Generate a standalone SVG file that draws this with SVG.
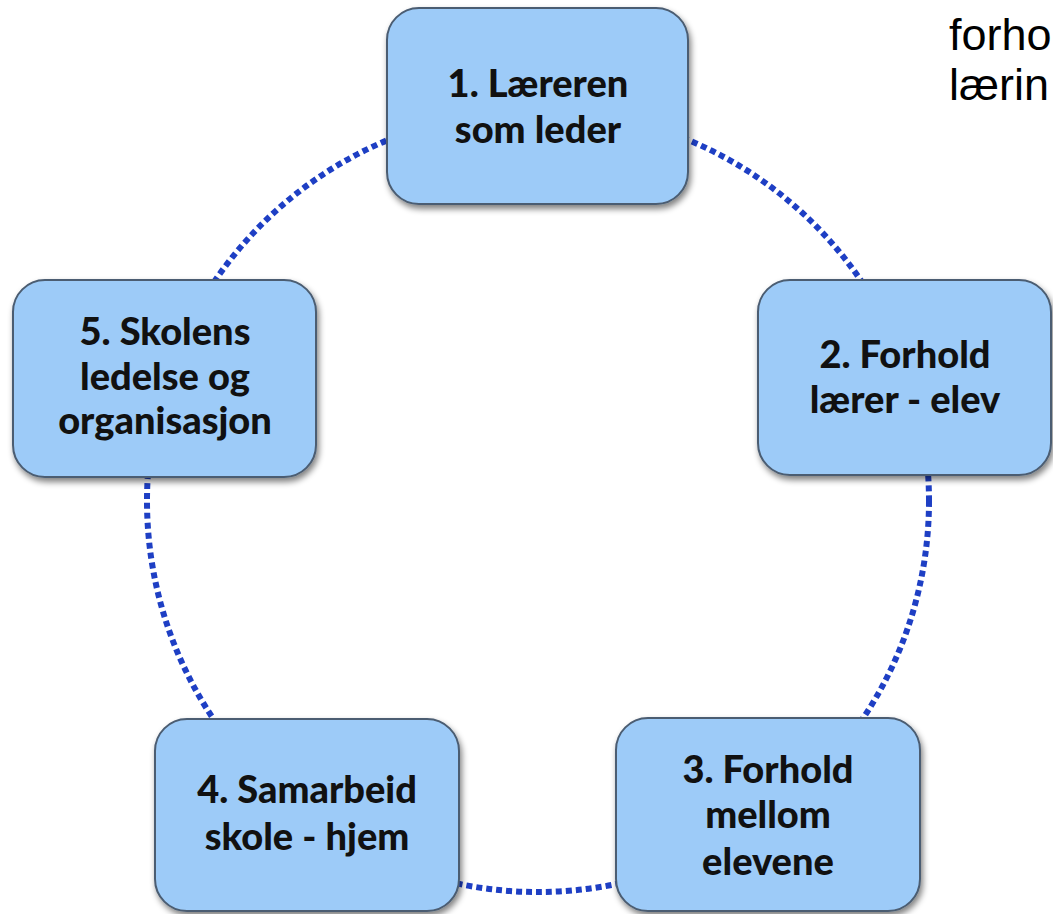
<svg xmlns="http://www.w3.org/2000/svg" width="1053" height="914" viewBox="0 0 1053 914">
<style>
.box{fill:#9DCBF8;stroke:#4B5D72;stroke-width:2;filter:url(#sh)}
.lbl{font-family:Lato,"Open Sans","Liberation Sans",sans-serif;font-weight:900;font-size:38px;fill:#111;text-anchor:middle}
.side{font-family:"Liberation Sans",Arial,sans-serif;font-size:45px;fill:#000}
.ring{fill:none;stroke:#1E3FC4;stroke-width:6;stroke-dasharray:6 4}
</style>
<defs>
<filter id="sh" x="-10%" y="-10%" width="130%" height="130%">
<feGaussianBlur in="SourceAlpha" stdDeviation="3"/>
<feOffset dx="2" dy="4" result="b"/>
<feComponentTransfer><feFuncA type="linear" slope="0.5"/></feComponentTransfer>
<feMerge><feMergeNode/><feMergeNode in="SourceGraphic"/></feMerge>
</filter>
</defs>
<rect width="1053" height="914" fill="#fff"/>
<g id="connectors">
<circle class="ring" cx="538" cy="501" r="391"/>
</g>
<g id="node1">
<rect class="box" x="387" y="8" width="301" height="196" rx="32"/>
<text class="lbl" x="538" y="97">1. Læreren</text>
<text class="lbl" x="538" y="143">som leder</text>
</g>
<g id="node2">
<rect class="box" x="758" y="280" width="293" height="195" rx="32"/>
<text class="lbl" x="905" y="368">2. Forhold</text>
<text class="lbl" x="905" y="413">lærer - elev</text>
</g>
<g id="node3">
<rect class="box" x="616" y="718" width="304" height="193" rx="32"/>
<text class="lbl" x="768" y="783">3. Forhold</text>
<text class="lbl" x="768" y="828">mellom</text>
<text class="lbl" x="768" y="875">elevene</text>
</g>
<g id="node4">
<rect class="box" x="155" y="719" width="304" height="192" rx="32"/>
<text class="lbl" x="307" y="803">4. Samarbeid</text>
<text class="lbl" x="307" y="850">skole - hjem</text>
</g>
<g id="node5">
<rect class="box" x="13" y="280" width="303" height="197" rx="32"/>
<text class="lbl" x="165" y="345">5. Skolens</text>
<text class="lbl" x="165" y="390">ledelse og</text>
<text class="lbl" x="165" y="434">organisasjon</text>
</g>
<g id="sidetext">
<text class="side" x="949" y="50">forho</text>
<text class="side" x="949" y="100">lærin</text>
</g>
</svg>
